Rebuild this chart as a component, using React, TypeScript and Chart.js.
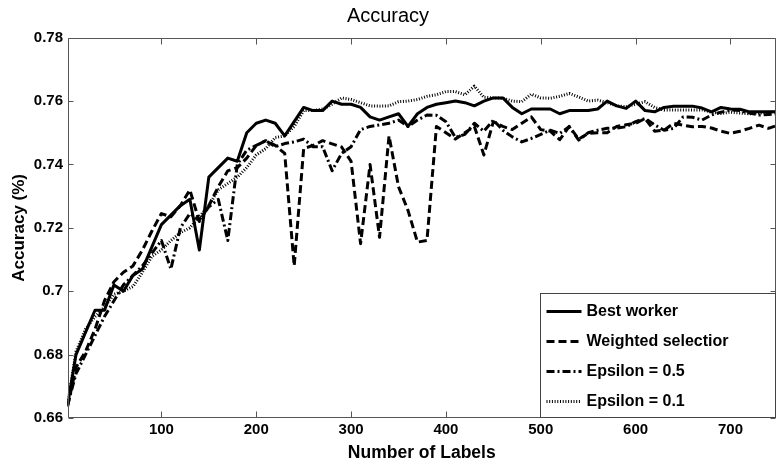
import React, { useEffect, useRef } from 'react';
import { Chart, registerables } from 'chart.js';

Chart.register(...registerables);

const labelCounts = [1, 10, 20, 30, 40, 50, 60, 70, 80, 90, 100, 110, 120, 130, 140, 150, 160, 170, 180, 190, 200, 210, 220, 230, 240, 250, 260, 270, 280, 290, 300, 310, 320, 330, 340, 350, 360, 370, 380, 390, 400, 410, 420, 430, 440, 450, 460, 470, 480, 490, 500, 510, 520, 530, 540, 550, 560, 570, 580, 590, 600, 610, 620, 630, 640, 650, 660, 670, 680, 690, 700, 710, 720, 730, 740, 750];

const bestWorker = [0.664, 0.680, 0.687, 0.694, 0.694, 0.702, 0.700, 0.705, 0.707, 0.714, 0.721, 0.724, 0.727, 0.729, 0.713, 0.736, 0.739, 0.742, 0.741, 0.750, 0.753, 0.754, 0.753, 0.749, 0.7535, 0.758, 0.757, 0.757, 0.760, 0.759, 0.759, 0.758, 0.755, 0.754, 0.755, 0.756, 0.752, 0.756, 0.758, 0.759, 0.7595, 0.760, 0.7595, 0.7585, 0.760, 0.761, 0.761, 0.758, 0.756, 0.7575, 0.7575, 0.7575, 0.756, 0.757, 0.757, 0.757, 0.7575, 0.760, 0.7585, 0.7577, 0.760, 0.757, 0.7566, 0.758, 0.7584, 0.7584, 0.7584, 0.7578, 0.7566, 0.758, 0.7575, 0.7574, 0.7566, 0.7566, 0.7566, 0.7566];

const weightedSelection = [0.6635, 0.676, 0.681, 0.688, 0.697, 0.703, 0.706, 0.708, 0.713, 0.719, 0.7245, 0.7235, 0.727, 0.732, 0.722, 0.727, 0.733, 0.738, 0.739, 0.742, 0.746, 0.7475, 0.746, 0.7435, 0.708, 0.745, 0.746, 0.7475, 0.7465, 0.7455, 0.741, 0.715, 0.740, 0.717, 0.749, 0.733, 0.7255, 0.7155, 0.716, 0.752, 0.750, 0.748, 0.750, 0.752, 0.743, 0.7535, 0.752, 0.751, 0.753, 0.755, 0.751, 0.7505, 0.7478, 0.752, 0.748, 0.7498, 0.750, 0.750, 0.752, 0.7525, 0.753, 0.7545, 0.7505, 0.7508, 0.753, 0.7524, 0.7519, 0.752, 0.7515, 0.7505, 0.7498, 0.7505, 0.7514, 0.7524, 0.7514, 0.7524];

const epsilon05 = [0.664, 0.674, 0.680, 0.686, 0.692, 0.697, 0.702, 0.705, 0.708, 0.712, 0.716, 0.707, 0.720, 0.7245, 0.7225, 0.7266, 0.729, 0.716, 0.740, 0.7445, 0.746, 0.7475, 0.7456, 0.7466, 0.7471, 0.748, 0.7456, 0.7456, 0.738, 0.7435, 0.7456, 0.751, 0.752, 0.7525, 0.753, 0.754, 0.752, 0.754, 0.7556, 0.7555, 0.7535, 0.7485, 0.7495, 0.753, 0.7505, 0.754, 0.7508, 0.7487, 0.7471, 0.7482, 0.7495, 0.7508, 0.7498, 0.7519, 0.7477, 0.750, 0.7508, 0.7514, 0.7515, 0.7519, 0.7535, 0.7545, 0.7525, 0.7508, 0.7514, 0.755, 0.7549, 0.754, 0.7556, 0.7565, 0.7572, 0.757, 0.7562, 0.7556, 0.7558, 0.756];

const epsilon01 = [0.664, 0.681, 0.688, 0.692, 0.695, 0.699, 0.700, 0.7015, 0.706, 0.711, 0.713, 0.716, 0.7185, 0.720, 0.7235, 0.727, 0.732, 0.734, 0.736, 0.739, 0.743, 0.745, 0.7485, 0.749, 0.752, 0.757, 0.757, 0.7575, 0.759, 0.761, 0.7605, 0.7595, 0.7585, 0.7584, 0.7585, 0.7598, 0.760, 0.7605, 0.7615, 0.762, 0.763, 0.763, 0.762, 0.7647, 0.7612, 0.761, 0.7609, 0.760, 0.7598, 0.7622, 0.761, 0.7609, 0.7615, 0.7624, 0.7613, 0.760, 0.7603, 0.7595, 0.7585, 0.7582, 0.759, 0.7598, 0.758, 0.7572, 0.7572, 0.7572, 0.7572, 0.7572, 0.7565, 0.7561, 0.7565, 0.7562, 0.756, 0.7562, 0.7565, 0.7566];

const seriesNames = ['Best worker', 'Weighted selectior', 'Epsilon = 0.5', 'Epsilon = 0.1'];
const xTickValues = [100, 200, 300, 400, 500, 600, 700];
const yTickValues = [0.66, 0.68, 0.7, 0.72, 0.74, 0.76, 0.78];

const FONT = '"Liberation Sans", Arial, Helvetica, sans-serif';
const lineStyles = [
  { dash: [] as number[], width: 3 },
  { dash: [8, 4], width: 3 },
  { dash: [8, 3, 2, 3], width: 3 },
  { dash: [1, 1.7], width: 3 },
];

const framePlugin = {
  id: 'matlabFrame',
  afterDatasetsDraw(chart: any) {
    const { ctx, chartArea: a, scales } = chart;
    const L = Math.round(a.left) + 0.5;
    const R = Math.round(a.right) - 0.5;
    const T = Math.round(a.top) + 0.5;
    const B = Math.round(a.bottom) - 0.5;
    ctx.save();
    ctx.strokeStyle = '#555';
    ctx.lineWidth = 1;
    ctx.setLineDash([]);
    ctx.beginPath();
    ctx.rect(L, T, R - L, B - T);
    ctx.stroke();
    ctx.beginPath();
    for (const v of xTickValues) {
      const px = Math.round(scales.x.getPixelForValue(v)) + 0.5;
      ctx.moveTo(px, B);
      ctx.lineTo(px, B - 6);
      ctx.moveTo(px, T);
      ctx.lineTo(px, T + 6);
    }
    for (const v of yTickValues) {
      const py = Math.round(scales.y.getPixelForValue(v)) + 0.5;
      ctx.moveTo(L, py);
      ctx.lineTo(L + 5, py);
      ctx.moveTo(R, py);
      ctx.lineTo(R - 5, py);
    }
    ctx.stroke();
    ctx.restore();
  },
  afterDraw(chart: any) {
    const { ctx, chartArea: a } = chart;
    const R = Math.round(a.right) - 0.5;
    const B = Math.round(a.bottom) - 0.5;
    const L = R - 235;
    const T = B - 124;
    ctx.save();
    ctx.fillStyle = '#fff';
    ctx.fillRect(L, T, R - L, B - T);
    ctx.strokeStyle = '#444';
    ctx.lineWidth = 1;
    ctx.setLineDash([]);
    ctx.strokeRect(L, T, R - L, B - T);
    chart.data.datasets.forEach((ds: any, i: number) => {
      const y = Math.round(T + 17 + 30 * i) + 0.5;
      const st = lineStyles[i];
      ctx.beginPath();
      ctx.strokeStyle = '#000';
      ctx.lineWidth = st.width;
      ctx.lineCap = 'butt';
      ctx.setLineDash(st.dash);
      ctx.moveTo(L + 6, y);
      ctx.lineTo(L + 41, y);
      ctx.stroke();
      ctx.setLineDash([]);
      ctx.fillStyle = '#000';
      ctx.font = `bold 16px ${FONT}`;
      ctx.textAlign = 'left';
      ctx.textBaseline = 'middle';
      ctx.fillText(ds.label, L + 46, y);
    });
    ctx.restore();
  },
};

export default function App() {
  const canvasRef = useRef<HTMLCanvasElement | null>(null);

  useEffect(() => {
    if (!canvasRef.current) return;
    const seriesValues = [bestWorker, weightedSelection, epsilon05, epsilon01];
    const datasets = seriesValues.map((vals, i) => ({
      label: seriesNames[i],
      data: labelCounts.map((x, j) => ({ x, y: vals[j] })),
      borderColor: '#000',
      backgroundColor: '#000',
      borderWidth: lineStyles[i].width,
      borderDash: lineStyles[i].dash,
      borderCapStyle: 'butt' as const,
      borderJoinStyle: 'round' as const,
      pointRadius: 0,
      tension: 0,
      fill: false,
    }));

    const chart = new Chart(canvasRef.current, {
      type: 'line',
      data: { datasets },
      options: {
        animation: false,
        responsive: false,
        devicePixelRatio: 1,
        layout: { padding: { left: 0, right: 2, top: 0, bottom: 0 } },
        plugins: {
          legend: { display: false },
          tooltip: { enabled: false },
          title: {
            display: true,
            text: 'Accuracy',
            color: '#000',
            font: { family: FONT, size: 20, weight: 'normal' },
            padding: { top: 4.5, bottom: 9.2 },
          },
        },
        scales: {
          x: {
            type: 'linear',
            min: 1,
            max: 748,
            afterFit: (s: any) => { s.height = 48; },
            afterBuildTicks: (s: any) => { s.ticks = xTickValues.map((v) => ({ value: v })); },
            ticks: {
              color: '#000',
              font: { family: FONT, size: 15, weight: 'bold' },
              padding: 3,
              maxRotation: 0,
              autoSkip: false,
              callback: (v: any) => String(v),
            },
            grid: { display: false, drawTicks: false, tickLength: 0 },
            border: { display: false },
            title: {
              display: true,
              text: 'Number of Labels',
              color: '#000',
              font: { family: FONT, size: 17.5, weight: 'bold' },
              padding: { top: 0, bottom: 2.5 },
            },
          },
          y: {
            type: 'linear',
            min: 0.66,
            max: 0.78,
            afterFit: (s: any) => { s.width = 67.5; },
            afterBuildTicks: (s: any) => { s.ticks = yTickValues.map((v) => ({ value: v })); },
            ticks: {
              color: '#000',
              font: { family: FONT, size: 15, weight: 'bold' },
              padding: 4.5,
              autoSkip: false,
              callback: (v: any) => String(Number(Number(v).toFixed(2))),
            },
            grid: { display: false, drawTicks: false, tickLength: 0 },
            border: { display: false },
            title: {
              display: true,
              text: 'Accuracy (%)',
              color: '#000',
              font: { family: FONT, size: 17, weight: 'bold' },
              padding: { top: 8.8, bottom: 0 },
            },
          },
        },
      },
      plugins: [framePlugin],
    });
    return () => chart.destroy();
  }, []);

  return (
    <div style={{ position: 'absolute', left: 0, top: 0, width: 778, height: 466 }}>
      <canvas ref={canvasRef} width={778} height={466} style={{ display: 'block', width: 778, height: 466 }} />
    </div>
  );
}
